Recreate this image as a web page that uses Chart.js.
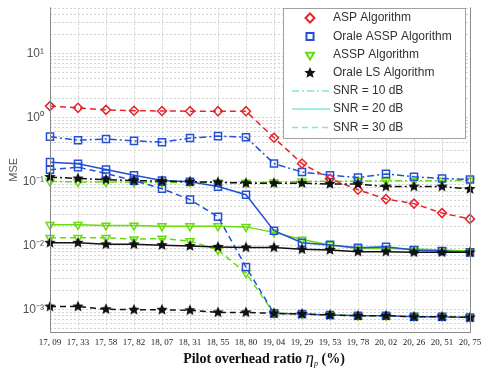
<!DOCTYPE html>
<html>
<head>
<meta charset="utf-8">
<script src="https://cdn.jsdelivr.net/npm/chart.js@4.4.0/dist/chart.umd.min.js"></script>
<style>
  html, body { margin: 0; padding: 0; background: #fff; }
</style>
</head>
<body>
<canvas id="mainChart" width="491" height="370"></canvas>
<script>
// pilot overhead ratio, as printed under the x axis
const overheadLabels = ['17, 09', '17, 33', '17, 58', '17, 82', '18, 07', '18, 31', '18, 55', '18, 80',
  '19, 04', '19, 29', '19, 53', '19, 78', '20, 02', '20, 26', '20, 51', '20, 75'];

// MSE
const aspSnr30 = [1.50, 1.41, 1.31, 1.27, 1.26, 1.25, 1.25, 1.25, 0.48, 0.19, 0.11, 0.074, 0.053, 0.045, 0.032, 0.026];
const oracleAsspSnr10 = [0.50, 0.44, 0.46, 0.43, 0.41, 0.475, 0.51, 0.49, 0.19, 0.14, 0.125, 0.115, 0.131, 0.118, 0.111, 0.107];
const oracleAsspSnr20 = [0.20, 0.188, 0.153, 0.125, 0.103, 0.099, 0.083, 0.062, 0.017, 0.011, 0.0102, 0.0092, 0.0095, 0.0085, 0.0082, 0.0078];
const oracleAsspSnr30 = [0.152, 0.167, 0.133, 0.103, 0.077, 0.052, 0.028, 0.0046, 0.00087, 0.00085, 0.00082, 0.0008, 0.0008, 0.00077, 0.00077, 0.00075];
const asspSnr10 = [0.100, 0.098, 0.098, 0.097, 0.096, 0.097, 0.096, 0.096, 0.097, 0.100, 0.101, 0.101, 0.102, 0.102, 0.103, 0.103];
const asspSnr20 = [0.021, 0.021, 0.0205, 0.0205, 0.020, 0.020, 0.020, 0.0195, 0.016, 0.0124, 0.0102, 0.009, 0.009, 0.0088, 0.0085, 0.0082];
const asspSnr30 = [0.0132, 0.0132, 0.0132, 0.0125, 0.0128, 0.0117, 0.0085, 0.0037, 0.00087, 0.00085, 0.00082, 0.0008, 0.0008, 0.00077, 0.00077, 0.00075];
const lsSnr10 = [0.117, 0.111, 0.107, 0.103, 0.101, 0.099, 0.097, 0.094, 0.094, 0.094, 0.091, 0.091, 0.083, 0.083, 0.083, 0.076];
const lsSnr20 = [0.0110, 0.0110, 0.0104, 0.0104, 0.0101, 0.0098, 0.0095, 0.0093, 0.0093, 0.0087, 0.0085, 0.0080, 0.0080, 0.0078, 0.0078, 0.0078];
const lsSnr30 = [0.00111, 0.00111, 0.00101, 0.00099, 0.00099, 0.00097, 0.00090, 0.00090, 0.00087, 0.00085, 0.00082, 0.0008, 0.0008, 0.00077, 0.00077, 0.00075];

const algoNames = ['ASP Algorithm', 'Orale ASSP Algorithm', 'ASSP Algorithm', 'Orale LS Algorithm'];
const snrNames = ['SNR = 10 dB', 'SNR = 20 dB', 'SNR = 30 dB'];

const RED = '#e8242c', BLUE = '#2450d8', GREEN = '#66dd0a', BLACK = '#111111', CYAN = '#7fe8d8';
const DASH = { dashdot: [7, 3, 2, 3], solid: [], dashed: [6, 4] };
const SERIF = '"Liberation Serif", "DejaVu Serif", serif';

function makeStar(r) {
  const s = Math.ceil(r * 2 + 2);
  const c = document.createElement('canvas');
  c.width = s; c.height = s;
  const g = c.getContext('2d');
  g.fillStyle = BLACK;
  g.beginPath();
  for (let i = 0; i < 10; i++) {
    const rad = i % 2 ? r * 0.45 : r;
    const ang = -Math.PI / 2 + i * Math.PI / 5;
    g.lineTo(s / 2 + rad * Math.cos(ang), s / 2 + rad * Math.sin(ang));
  }
  g.closePath();
  g.fill();
  return c;
}
const starImg = makeStar(6);

const markers = {
  asp: { pointStyle: 'rectRot', pointRadius: 4.5, pointRotation: 0 },
  oracle: { pointStyle: 'rect', pointRadius: 5, pointRotation: 0 },
  assp: { pointStyle: 'triangle', pointRadius: 4.6, pointRotation: 180 },
  ls: { pointStyle: starImg, pointRadius: 6, pointRotation: 0 }
};

function series(values, color, dash, mk) {
  return Object.assign({
    data: values,
    borderColor: color,
    backgroundColor: color,
    pointBorderColor: color,
    pointBackgroundColor: 'rgba(0,0,0,0)',
    pointBorderWidth: 1.5,
    borderWidth: 1.5,
    borderDash: DASH[dash],
    tension: 0,
    pointHoverRadius: 5
  }, mk);
}

// first dataset ends up drawn on top
const datasets = [
  series(lsSnr10, BLACK, 'dashdot', markers.ls),
  series(lsSnr20, BLACK, 'solid', markers.ls),
  series(lsSnr30, BLACK, 'dashed', markers.ls),
  series(aspSnr30, RED, 'dashed', markers.asp),
  series(oracleAsspSnr10, BLUE, 'dashdot', markers.oracle),
  series(oracleAsspSnr20, BLUE, 'solid', markers.oracle),
  series(oracleAsspSnr30, BLUE, 'dashed', markers.oracle),
  series(asspSnr10, GREEN, 'dashdot', markers.assp),
  series(asspSnr20, GREEN, 'solid', markers.assp),
  series(asspSnr30, GREEN, 'dashed', markers.assp)
];

const SUP = { '-': '\u207B', '0': '\u2070', '1': '\u00B9', '2': '\u00B2', '3': '\u00B3' };
function decadeLabel(v) {
  const e = Math.log10(v);
  if (Math.abs(e - Math.round(e)) > 1e-6) return '';
  return '10' + String(Math.round(e)).split('').map(ch => SUP[ch] || ch).join('');
}

// axis box, in-plot legend, x title with italic eta_p
const boxPlugin = {
  id: 'box',
  afterDatasetsDraw(chart) {
    const { ctx, chartArea: a } = chart;
    ctx.save();
    ctx.strokeStyle = '#8a8a8a';
    ctx.lineWidth = 1;
    ctx.setLineDash([]);
    ctx.beginPath();
    ctx.moveTo(a.left + 0.5, a.top);
    ctx.lineTo(a.left + 0.5, a.bottom + 0.5);
    ctx.lineTo(a.right + 0.5, a.bottom + 0.5);
    ctx.lineTo(a.right + 0.5, a.top);
    ctx.stroke();

    // legend
    const lx = 283, ly = 8, lw = 182, lh = 130;
    ctx.fillStyle = '#fff';
    ctx.fillRect(lx, ly, lw, lh);
    ctx.strokeStyle = '#a0a0a0';
    ctx.strokeRect(lx + 0.5, ly + 0.5, lw, lh);

    const rowY = [18, 36.5, 55, 73, 91, 109, 127.5];
    const mk = [markers.asp, markers.oracle, markers.assp, markers.ls];
    const cols = [RED, BLUE, GREEN, BLACK];
    ctx.font = '12px "Liberation Sans", Arial, sans-serif';
    ctx.textBaseline = 'middle';
    for (let i = 0; i < 4; i++) {
      const y = rowY[i];
      if (mk[i].pointStyle === starImg) {
        ctx.drawImage(starImg, 310 - starImg.width / 2, y - starImg.height / 2);
      } else {
        ctx.strokeStyle = cols[i];
        ctx.fillStyle = 'rgba(0,0,0,0)';
        ctx.lineWidth = 2;
        Chart.helpers.drawPoint(ctx, {
          pointStyle: mk[i].pointStyle, radius: mk[i].pointRadius,
          rotation: mk[i].pointRotation, borderWidth: 2
        }, 310, y);
      }
      ctx.fillStyle = '#333';
      ctx.fillText(algoNames[i], 333, y);
    }
    const snrDash = [DASH.dashdot, DASH.solid, DASH.dashed];
    for (let j = 0; j < 3; j++) {
      const y = rowY[4 + j];
      ctx.strokeStyle = CYAN;
      ctx.lineWidth = 1.5;
      ctx.setLineDash(snrDash[j]);
      ctx.beginPath();
      ctx.moveTo(292, y);
      ctx.lineTo(330, y);
      ctx.stroke();
      ctx.setLineDash([]);
      ctx.fillStyle = '#333';
      ctx.fillText(snrNames[j], 333, y);
    }

    // x axis title
    const parts = [
      { t: 'Pilot overhead ratio ', f: 'bold 14px ' + SERIF, dy: 0 },
      { t: '\u03B7', f: 'italic 17px ' + SERIF, dy: 0 },
      { t: 'p', f: 'italic 8px ' + SERIF, dy: 3 },
      { t: ' (%)', f: 'bold 14px ' + SERIF, dy: 0 }
    ];
    let total = 0;
    parts.forEach(p => { ctx.font = p.f; p.w = ctx.measureText(p.t).width; total += p.w; });
    let x = 264 - total / 2;
    ctx.fillStyle = '#111';
    ctx.textBaseline = 'alphabetic';
    parts.forEach(p => { ctx.font = p.f; ctx.fillText(p.t, x, 363 + p.dy); x += p.w; });
    ctx.restore();
  }
};

const config = {
  type: 'line',
  data: { labels: overheadLabels, datasets: datasets },
  options: {
    responsive: false,
    animation: false,
    layout: { padding: { top: 0, right: 21, bottom: 0, left: 0 } },
    plugins: { legend: { display: false }, tooltip: { enabled: false } },
    scales: {
      x: {
        offset: false,
        grid: { color: '#d2d2d2', drawTicks: false },
        border: { display: false, dash: [2, 2] },
        ticks: {
          padding: 5, color: '#222', maxRotation: 0, autoSkip: false,
          font: { family: SERIF, size: 9 }
        },
        afterFit(scale) { scale.height = 38; scale.paddingLeft = 0; scale.paddingRight = 0; }
      },
      y: {
        type: 'logarithmic',
        min: 4.45e-4,
        max: 52,
        grid: { color: '#d2d2d2', drawTicks: false },
        border: { display: false, dash: [2, 2] },
        afterBuildTicks(scale) {
          const t = [];
          for (let e = -4; e <= 1; e++) {
            for (let m = 1; m <= 9; m++) {
              const v = m * Math.pow(10, e);
              if (v >= scale.min * 1.0001 && v <= scale.max) t.push({ value: v });
            }
          }
          scale.ticks = t;
        },
        ticks: {
          padding: 6, color: '#555', autoSkip: false,
          font: { family: '"Liberation Sans", Arial, sans-serif', size: 12 },
          callback: (v) => decadeLabel(v)
        },
        title: {
          display: true, text: 'MSE', color: '#555',
          font: { family: '"Liberation Sans", Arial, sans-serif', size: 11 },
          padding: { top: 7, bottom: 0 }
        },
        afterFit(scale) { scale.width = 50; scale.paddingTop = 0; scale.paddingBottom = 0; }
      }
    }
  },
  plugins: [boxPlugin]
};

const myChart = new Chart(document.getElementById('mainChart'), config);
</script>
</body>
</html>
